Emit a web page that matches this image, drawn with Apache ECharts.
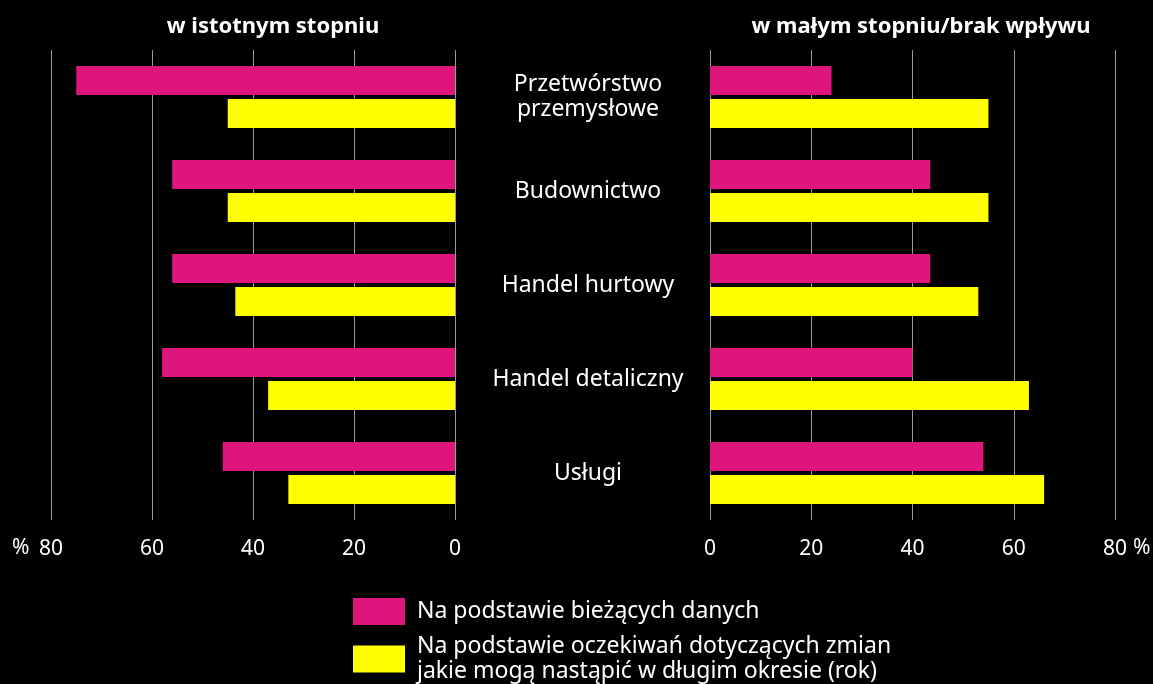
<!DOCTYPE html>
<html lang="pl">
<head>
<meta charset="UTF-8">
<script src="https://cdn.jsdelivr.net/npm/echarts@6/dist/echarts.min.js"></script>
<title>Wpływ</title>
<style>
  html, body { margin: 0; padding: 0; background: #000; }
  #chart { width: 1153px; height: 684px; }
</style>
</head>
<body>
<div id="chart"></div>
<script>
// dane
var categories = ['Przetwórstwo\nprzemysłowe', 'Budownictwo', 'Handel hurtowy', 'Handel detaliczny', 'Usługi'];
var seriesNames = ['Na podstawie bieżących danych', 'Na podstawie oczekiwań dotyczących zmian\njakie mogą nastąpić w długim okresie (rok)'];
// w istotnym stopniu
var leftCurrent = [75, 56, 56, 58, 46];
var leftExpected = [45, 45, 43.5, 37, 33];
// w małym stopniu/brak wpływu
var rightCurrent = [24, 43.5, 43.5, 40, 54];
var rightExpected = [55, 55, 53, 63, 66];
var panelTitles = ['w istotnym stopniu', 'w małym stopniu/brak wpływu'];

var FONT = '"Noto Sans", "Open Sans", sans-serif';
var MAGENTA = '#dd157d';
var YELLOW = '#ffff00';

var chart = echarts.init(document.getElementById('chart'));

function valueAxis(grid, inverse) {
    return {
        type: 'value', gridIndex: grid, min: 0, max: 80, interval: 20, inverse: inverse,
        axisLine: { show: false }, axisTick: { show: false },
        axisLabel: { color: '#fff', fontSize: 21, fontFamily: FONT, margin: 19 },
        splitLine: { show: true, lineStyle: { color: '#9a9a9a', width: 1 } }
    };
}

function bar(name, grid, data, color) {
    return {
        name: name, type: 'bar', xAxisIndex: grid, yAxisIndex: grid,
        data: data, barWidth: 29, barGap: '14%',
        itemStyle: { color: color }
    };
}

function legendFor(name, top) {
    return {
        data: [name], left: 353, top: top, padding: 0,
        itemWidth: 52, itemHeight: 27, icon: 'rect',
        textStyle: { color: '#fff', fontSize: 23, fontFamily: FONT, lineHeight: 25, padding: [0, 0, 0, 7] }
    };
}

var option = {
    backgroundColor: '#000',
    animation: false,
    title: [
        { text: panelTitles[0], left: 268, top: 11, textAlign: 'center',
          textStyle: { color: '#fff', fontSize: 22, fontWeight: 'bold', fontFamily: FONT } },
        { text: panelTitles[1], left: 916, top: 11, textAlign: 'center',
          textStyle: { color: '#fff', fontSize: 22, fontWeight: 'bold', fontFamily: FONT } }
    ],
    grid: [
        { left: 51, width: 404, top: 50, height: 470 },
        { left: 710, width: 405, top: 50, height: 470 }
    ],
    xAxis: [valueAxis(0, true), valueAxis(1, false)],
    yAxis: [
        { type: 'category', gridIndex: 0, data: categories, inverse: true, position: 'right',
          axisLine: { show: false }, axisTick: { show: false }, axisLabel: { show: false } },
        { type: 'category', gridIndex: 1, data: categories, inverse: true,
          axisLine: { show: false }, axisTick: { show: false },
          axisLabel: { color: '#fff', fontSize: 23, fontFamily: FONT, align: 'center',
                       margin: 122, lineHeight: 25 } }
    ],
    legend: [legendFor(seriesNames[0], 598), legendFor(seriesNames[1], 634)],
    graphic: [
        { type: 'text', left: 12, top: 538, style: { text: '%', fill: '#fff', font: '21px ' + FONT } },
        { type: 'text', left: 1133, top: 538, style: { text: '%', fill: '#fff', font: '21px ' + FONT } }
    ],
    series: [
        bar(seriesNames[0], 0, leftCurrent, MAGENTA),
        bar(seriesNames[1], 0, leftExpected, YELLOW),
        bar(seriesNames[0], 1, rightCurrent, MAGENTA),
        bar(seriesNames[1], 1, rightExpected, YELLOW)
    ]
};
chart.setOption(option);
</script>
</body>
</html>
